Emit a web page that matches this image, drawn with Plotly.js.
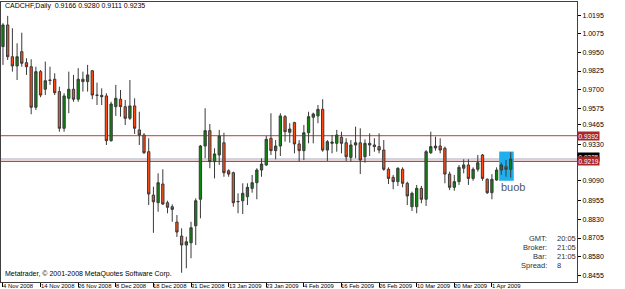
<!DOCTYPE html>
<html><head><meta charset="utf-8">
<script src="https://cdn.plot.ly/plotly-3.0.1.min.js"></script>
<style>html,body{margin:0;padding:0;background:#fff;}#chart{width:625px;height:289px;}</style>
</head><body><div id="chart"></div>
<script>
const symbolLabel = "CADCHF,Daily";
const dates = ["2008-11-04","2008-11-05","2008-11-06","2008-11-07","2008-11-10","2008-11-11","2008-11-12","2008-11-13","2008-11-14","2008-11-17",
"2008-11-18","2008-11-19","2008-11-20","2008-11-21","2008-11-24","2008-11-25","2008-11-26","2008-11-27","2008-11-28","2008-12-01",
"2008-12-02","2008-12-03","2008-12-04","2008-12-05","2008-12-08","2008-12-09","2008-12-10","2008-12-11","2008-12-12","2008-12-15",
"2008-12-16","2008-12-17","2008-12-18","2008-12-19","2008-12-22","2008-12-23","2008-12-24","2008-12-26","2008-12-29","2008-12-30",
"2008-12-31","2009-01-02","2009-01-05","2009-01-06","2009-01-07","2009-01-08","2009-01-09","2009-01-12","2009-01-13","2009-01-14",
"2009-01-15","2009-01-16","2009-01-19","2009-01-20","2009-01-21","2009-01-22","2009-01-23","2009-01-26","2009-01-27","2009-01-28",
"2009-01-29","2009-01-30","2009-02-02","2009-02-03","2009-02-04","2009-02-05","2009-02-06","2009-02-09","2009-02-10","2009-02-11",
"2009-02-12","2009-02-13","2009-02-16","2009-02-17","2009-02-18","2009-02-19","2009-02-20","2009-02-23","2009-02-24","2009-02-25",
"2009-02-26","2009-02-27","2009-03-02","2009-03-03","2009-03-04","2009-03-05","2009-03-06","2009-03-09","2009-03-10","2009-03-11",
"2009-03-12","2009-03-13","2009-03-16","2009-03-17","2009-03-18","2009-03-19","2009-03-20","2009-03-23","2009-03-24","2009-03-25",
"2009-03-26","2009-03-27","2009-03-30","2009-03-31","2009-04-01","2009-04-02","2009-04-03","2009-04-06","2009-04-07"];
const openP = [0.9989,1.0134,0.9921,0.9859,0.9955,0.9881,0.9854,0.9582,0.9821,0.9703,
0.9765,0.9770,0.9687,0.9441,0.9642,0.9703,0.9636,0.9770,0.9754,0.9827,
0.9664,0.9662,0.9658,0.9358,0.9586,0.9636,0.9586,0.9508,0.9591,0.9430,
0.9396,0.9284,0.8993,0.8942,0.9067,0.8942,0.8915,0.8812,0.8718,0.8658,
0.8673,0.8787,0.8965,0.9322,0.9425,0.9217,0.9262,0.9344,0.9156,0.9143,
0.8948,0.8955,0.8982,0.9038,0.9076,0.9161,0.9195,0.9374,0.9291,0.9322,
0.9519,0.9414,0.9479,0.9336,0.9291,0.9411,0.9515,0.9524,0.9568,0.9295,
0.9340,0.9340,0.9381,0.9344,0.9246,0.9329,0.9344,0.9250,0.9340,0.9329,
0.9318,0.9295,0.9166,0.9112,0.9083,0.9166,0.9072,0.8915,0.8915,0.9038,
0.8965,0.9277,0.9309,0.9322,0.9307,0.9134,0.9045,0.9083,0.9173,0.9195,
0.9105,0.9166,0.9262,0.9099,0.9009,0.9094,0.9161,0.9183,0.9166];
const highP = [1.0146,1.0195,1.0112,1.0011,1.0082,0.9911,0.9904,0.9854,0.9832,0.9888,
0.9854,0.9810,0.9720,0.9676,0.9821,0.9799,0.9844,0.9821,0.9866,0.9832,
0.9747,0.9709,0.9676,0.9619,0.9732,0.9698,0.9631,0.9765,0.9642,0.9552,
0.9408,0.9374,0.9049,0.9139,0.9166,0.8955,0.8931,0.8859,0.8770,0.8714,
0.8814,0.8971,0.9329,0.9575,0.9470,0.9307,0.9430,0.9411,0.9166,0.9150,
0.9005,0.9072,0.9072,0.9128,0.9173,0.9240,0.9389,0.9542,0.9362,0.9542,
0.9530,0.9475,0.9485,0.9362,0.9463,0.9552,0.9546,0.9597,0.9636,0.9362,
0.9396,0.9430,0.9418,0.9374,0.9362,0.9452,0.9441,0.9367,0.9407,0.9374,
0.9407,0.9362,0.9179,0.9128,0.9179,0.9179,0.9083,0.9016,0.9061,0.9054,
0.9295,0.9418,0.9385,0.9374,0.9318,0.9150,0.9128,0.9195,0.9233,0.9233,
0.9179,0.9262,0.9269,0.9105,0.9134,0.9179,0.9210,0.9228,0.9280];
const lowP = [0.9866,0.9899,0.9821,0.9765,0.9854,0.9799,0.9535,0.9564,0.9649,0.9664,
0.9732,0.9664,0.9418,0.9418,0.9542,0.9619,0.9619,0.9687,0.9687,0.9636,
0.9597,0.9597,0.9329,0.9351,0.9524,0.9519,0.9463,0.9497,0.9403,0.9329,
0.9269,0.8926,0.8740,0.8881,0.8926,0.8871,0.8814,0.8712,0.8472,0.8502,
0.8569,0.8658,0.8837,0.9240,0.9173,0.9105,0.9195,0.9116,0.9116,0.8915,
0.8871,0.8866,0.8926,0.9009,0.8965,0.9116,0.9188,0.9262,0.9233,0.9255,
0.9351,0.9344,0.9273,0.9217,0.9228,0.9340,0.9340,0.9475,0.9284,0.9222,
0.9273,0.9284,0.9273,0.9222,0.9217,0.9240,0.9134,0.9210,0.9255,0.9284,
0.9273,0.9156,0.9067,0.9032,0.9054,0.9045,0.8926,0.8886,0.8871,0.8938,
0.8920,0.9269,0.9291,0.9273,0.9072,0.9027,0.9022,0.9061,0.9139,0.9061,
0.9089,0.9150,0.9089,0.9000,0.8965,0.9089,0.9128,0.9116,0.9111];
const closeP = [1.0134,0.9921,0.9859,0.9921,0.9877,0.9854,0.9582,0.9821,0.9664,0.9760,
0.9762,0.9680,0.9441,0.9658,0.9703,0.9636,0.9770,0.9754,0.9799,0.9664,
0.9662,0.9653,0.9358,0.9604,0.9642,0.9586,0.9508,0.9591,0.9441,0.9396,
0.9277,0.9000,0.8948,0.9076,0.8933,0.8911,0.8897,0.8745,0.8658,0.8680,
0.8774,0.8955,0.9322,0.9425,0.9217,0.9269,0.9389,0.9143,0.9134,0.8942,
0.8950,0.9005,0.9045,0.9076,0.9161,0.9201,0.9367,0.9291,0.9322,0.9524,
0.9418,0.9436,0.9336,0.9291,0.9411,0.9519,0.9537,0.9568,0.9295,0.9351,
0.9349,0.9396,0.9340,0.9250,0.9329,0.9344,0.9228,0.9340,0.9329,0.9318,
0.9295,0.9166,0.9105,0.9083,0.9173,0.9072,0.8987,0.9005,0.9038,0.8965,
0.9284,0.9318,0.9322,0.9295,0.9134,0.9045,0.9083,0.9179,0.9195,0.9105,
0.9166,0.9210,0.9105,0.9009,0.9099,0.9161,0.9195,0.9166,0.9235];
const xTickDates = ["2008-11-04","2008-11-14","2008-11-26","2008-12-08","2008-12-18","2008-12-31","2009-01-13","2009-01-23","2009-02-04","2009-02-16","2009-02-26","2009-03-10","2009-03-20","2009-04-01"];
const xTickLabels = ["4 Nov 2008","14 Nov 2008","26 Nov 2008","8 Dec 2008","18 Dec 2008","31 Dec 2008","13 Jan 2009","23 Jan 2009","4 Feb 2009","16 Feb 2009","26 Feb 2009","10 Mar 2009","20 Mar 2009","1 Apr 2009"];
const yTickValues = [1.0195,1.0075,0.9950,0.9825,0.9700,0.9575,0.9465,0.9330,0.9090,0.8955,0.8830,0.8705,0.8580,0.8455];
const levelUpper = 0.9392;
const levelLower = 0.9219;
const infoLabels = ["GMT:","Broker:","Bar:","Spread:"];
const infoValues = ["20:05","21:05","21:05","8"];
const boxLabel = "buob";
const copyright = "Metatrader, \u00a9 2001-2008 MetaQuotes Software Corp.";

const n = dates.length;
const last = n - 1;
const fmt = v => v.toFixed(4);
const headerText = symbolLabel + "  " + [openP[last], highP[last], lowP[last], closeP[last]].map(fmt).join(" ");
const boxHigh = Math.max(...highP.slice(n - 3));
const boxLow = Math.min(...lowP.slice(n - 3));
const FONT = "Liberation Sans, Arial, sans-serif";

const trace = {
  type: "candlestick", x: dates, open: openP, high: highP, low: lowP, close: closeP,
  increasing: {line: {color: "#3a3a3a", width: 1}, fillcolor: "#0b860b"},
  decreasing: {line: {color: "#3a3a3a", width: 1}, fillcolor: "#ff4b12"},
  whiskerwidth: 0, hoverinfo: "skip", showlegend: false
};

const annotations = [
  {xref: "paper", yref: "paper", x: 0.004, y: 0.986, xanchor: "left", yanchor: "middle", text: headerText, showarrow: false, font: {family: FONT, size: 7, color: "#000"}},
  {xref: "paper", yref: "paper", x: 0.004, y: 0.028, xanchor: "left", yanchor: "middle", text: copyright, showarrow: false, font: {family: FONT, size: 7, color: "#000"}},
  {xref: "x", yref: "y", x: n - 3.55, y: boxLow - 0.0008, xanchor: "left", yanchor: "top", text: boxLabel, showarrow: false, font: {family: FONT, size: 11, color: "#505860"}},
  {xref: "paper", yref: "y", x: 1.0, y: closeP[last], xanchor: "left", yanchor: "middle", yshift: 2, text: fmt(closeP[last]), showarrow: false, bgcolor: "#000", borderpad: 0.5, font: {family: FONT, size: 6.5, color: "#fff"}},
  {xref: "paper", yref: "y", x: 1.0, y: levelLower, xanchor: "left", yanchor: "middle", text: fmt(levelLower), showarrow: false, bgcolor: "#a82828", borderpad: 0.5, font: {family: FONT, size: 6.5, color: "#fff"}},
  {xref: "paper", yref: "y", x: 1.0, y: levelUpper, xanchor: "left", yanchor: "middle", text: fmt(levelUpper), showarrow: false, bgcolor: "#a82828", borderpad: 0.5, font: {family: FONT, size: 6.5, color: "#fff"}}
];
xTickDates.forEach((d, k) => {
  annotations.push({xref: "x", yref: "paper", x: d, y: 0, xanchor: "left", yanchor: "middle", xshift: -1, yshift: -3.5, text: xTickLabels[k], showarrow: false, borderpad: 0, font: {family: FONT, size: 5.9, color: "#000"}});
});
const infoY = [0.154, 0.1225, 0.0905, 0.058];
infoLabels.forEach((t, k) => {
  annotations.push({xref: "paper", yref: "paper", x: 0.9515, y: infoY[k], xanchor: "right", yanchor: "middle", text: t, showarrow: false, font: {family: FONT, size: 7.5, color: "#303030"}});
  annotations.push({xref: "paper", yref: "paper", x: 0.962, y: infoY[k], xanchor: "left", yanchor: "middle", text: infoValues[k], showarrow: false, font: {family: FONT, size: 7.5, color: "#303030"}});
});

const shapes = [
  {type: "rect", xref: "x", yref: "y", x0: n - 3.45, x1: n - 0.35, y0: boxLow - 0.0022, y1: boxHigh + 0.0005, fillcolor: "#1eb0ec", line: {width: 0}, layer: "below"},
  {type: "line", xref: "paper", yref: "y", x0: 0, x1: 1, y0: levelUpper, y1: levelUpper, line: {color: "#c86464", width: 1.3}, layer: "below"},
  {type: "line", xref: "paper", yref: "y", x0: 0, x1: 1, y0: closeP[last], y1: closeP[last], line: {color: "#a8a8bc", width: 1}, layer: "below"},
  {type: "line", xref: "paper", yref: "y", x0: 0, x1: 1, y0: levelLower, y1: levelLower, line: {color: "#b04848", width: 1.3}, layer: "below"}
];

const layout = {
  width: 625, height: 289,
  margin: {l: 1, r: 48, t: 2, b: 7, pad: 0},
  paper_bgcolor: "#ffffff", plot_bgcolor: "#ffffff",
  showlegend: false, boxgap: 0.3,
  xaxis: {
    type: "category", range: [-0.42, 122.1], rangeslider: {visible: false},
    tickmode: "array", tickvals: xTickDates, showticklabels: false,
    ticks: "outside", ticklen: 4, tickcolor: "#000", tickwidth: 1,
    showgrid: false, zeroline: false, showline: true, mirror: true, linecolor: "#404040", linewidth: 1,
    fixedrange: true
  },
  yaxis: {
    side: "right", range: [0.8410, 1.0288],
    tickmode: "array", tickvals: yTickValues, tickformat: ".4f",
    ticks: "outside", ticklen: 3, tickcolor: "#000", tickwidth: 1,
    showgrid: false, zeroline: false, showline: true, mirror: true, linecolor: "#404040", linewidth: 1,
    tickfont: {family: FONT, size: 7, color: "#000"}, fixedrange: true
  },
  annotations: annotations,
  shapes: shapes
};

Plotly.newPlot("chart", [trace], layout, {staticPlot: true, displayModeBar: false});
</script>
</body></html>
